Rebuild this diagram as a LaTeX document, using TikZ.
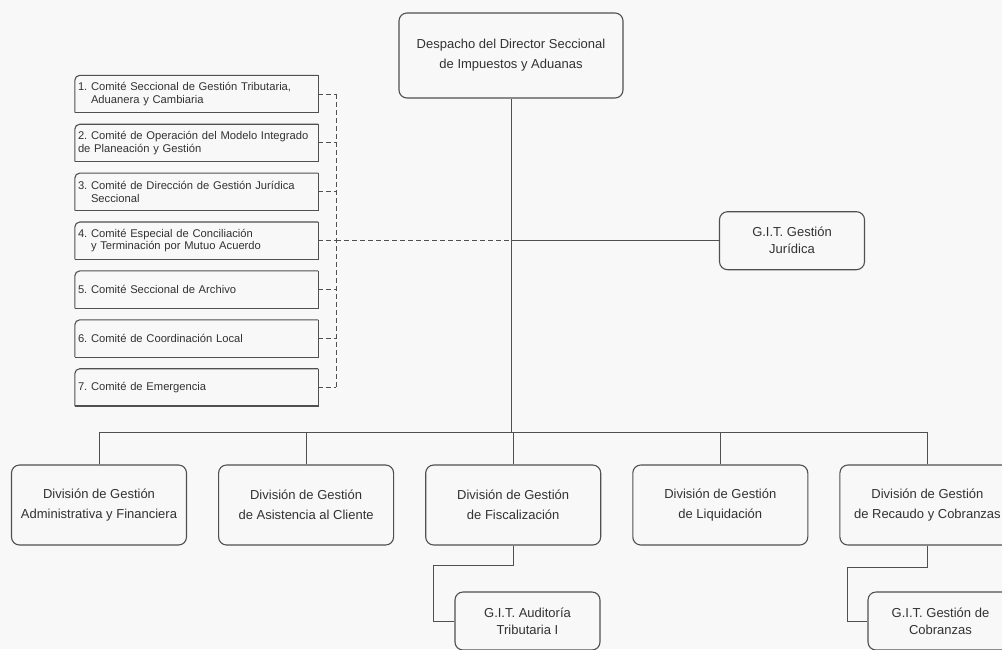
\documentclass[tikz,border=0pt]{standalone}
\usepackage{fontspec}
\setmainfont{Liberation Sans}
\usetikzlibrary{positioning}
\definecolor{linegray}{RGB}{80,80,80}
\definecolor{textgray}{RGB}{50,50,50}
\definecolor{paper}{RGB}{248,248,248}
\newcommand{\comitefont}{\fontsize{11.2}{12.5}\selectfont\frenchspacing\hyphenpenalty=10000\relax}
\tikzset{%
    unit/.style={draw=linegray, line width=1.1pt, rounded corners=8pt,
        align=center, text=textgray, inner sep=2pt},
    division/.style={unit, minimum width=175pt, minimum height=80pt,
        font=\fontsize{13}{20}\selectfont},
    git/.style={unit, minimum width=145pt, minimum height=58pt,
        font=\fontsize{13}{17}\selectfont},
    comite/.style={text width=237pt, align=left, minimum height=37pt,
        inner sep=3pt, text=textgray, font=\comitefont},
    link/.style={draw=linegray, line width=0.9pt},
    dashlink/.style={link, dash pattern=on 5pt off 3pt}
}

\begin{document}
\begin{tikzpicture}[x=1pt, y=-1pt, node distance=31pt]
\fill[paper] (0,0) rectangle (1002,649);
\useasboundingbox (0,0) rectangle (1002,649);

% direccion
\node[unit, minimum width=224pt, minimum height=85pt,
    font=\fontsize{13}{20}\selectfont] (dir) at (511,55.5)
    {Despacho del Director Seccional\\de Impuestos y Aduanas};

% comites
\node[comite] (c1) at (196.5,94)
    {1. Comité Seccional de Gestión Tributaria,\\\hspace*{13pt}Aduanera y Cambiaria};
\node[comite, below=11.5pt of c1] (c2)
    {2. Comité de Operación del Modelo Integrado\\de Planeación y Gestión};
\node[comite, below=11.5pt of c2] (c3)
    {3. Comité de Dirección de Gestión Jurídica\\\hspace*{13pt}Seccional};
\node[comite, below=11.5pt of c3] (c4)
    {4. Comité Especial de Conciliación\\\hspace*{13pt}y Terminación por Mutuo Acuerdo};
\node[comite, below=11.5pt of c4] (c5) {5. Comité Seccional de Archivo};
\node[comite, below=11.5pt of c5] (c6) {6. Comité de Coordinación Local};
\node[comite, below=11.5pt of c6] (c7) {7. Comité de Emergencia};
\foreach \c in {c1,c2,c3,c4,c5,c6,c7}{
    \draw[linegray, line width=1.1pt, rounded corners=5pt]
        (\c.south west) -- (\c.north west) -- (\c.north east);
    \draw[linegray, line width=1.3pt]
        (\c.north east) -- (\c.south east) -- (\c.south west);
}

% juridica
\coordinate (jx) at (792,0);
\node[git] (juri) at (jx |- c4) {G.I.T. Gestión\\Jurídica};

% divisiones
\node[division] (d1) at (99,505) {División de Gestión\\Administrativa y Financiera};
\node[division, right=of d1] (d2) {División de Gestión\\de Asistencia al Cliente};
\node[division, right=of d2] (d3) {División de Gestión\\de Fiscalización};
\node[division, right=of d3] (d4) {División de Gestión\\de Liquidación};
\node[division, right=of d4] (d5) {División de Gestión\\de Recaudo y Cobranzas};

% grupos
\node[git] (aud) at (527.5,621) {G.I.T. Auditoría\\Tributaria I};
\node[git] (cob) at (940.5,621) {G.I.T. Gestión de\\Cobranzas};

% lineas
\coordinate (rail) at (336,0);
\coordinate (bus) at (511,432);
\foreach \c in {c1,c2,c3,c4,c5,c6,c7}
    \draw[dashlink] (\c.east) -- (\c.east -| rail);
\draw[dashlink] (c1.east -| rail) -- (c7.east -| rail);
\draw[dashlink] (c4.east -| rail) -- (c4.east -| dir);
\draw[link] (c4.east -| dir) -- (juri.west);
\draw[link] (dir.south) -- (dir.south |- bus);
\draw[link] (d1.north |- bus) -- (d5.north |- bus);
\foreach \d in {d1,d2,d3,d4,d5}
    \draw[link] (\d.north) -- (\d.north |- bus);
\draw[link] (d3.south) -- ++(0,20) -| ([xshift=-21pt]aud.west) -- (aud.west);
\draw[link] (d5.south) -- ++(0,22) -| ([xshift=-20pt]cob.west) -- (cob.west);
\end{tikzpicture}
\end{document}
